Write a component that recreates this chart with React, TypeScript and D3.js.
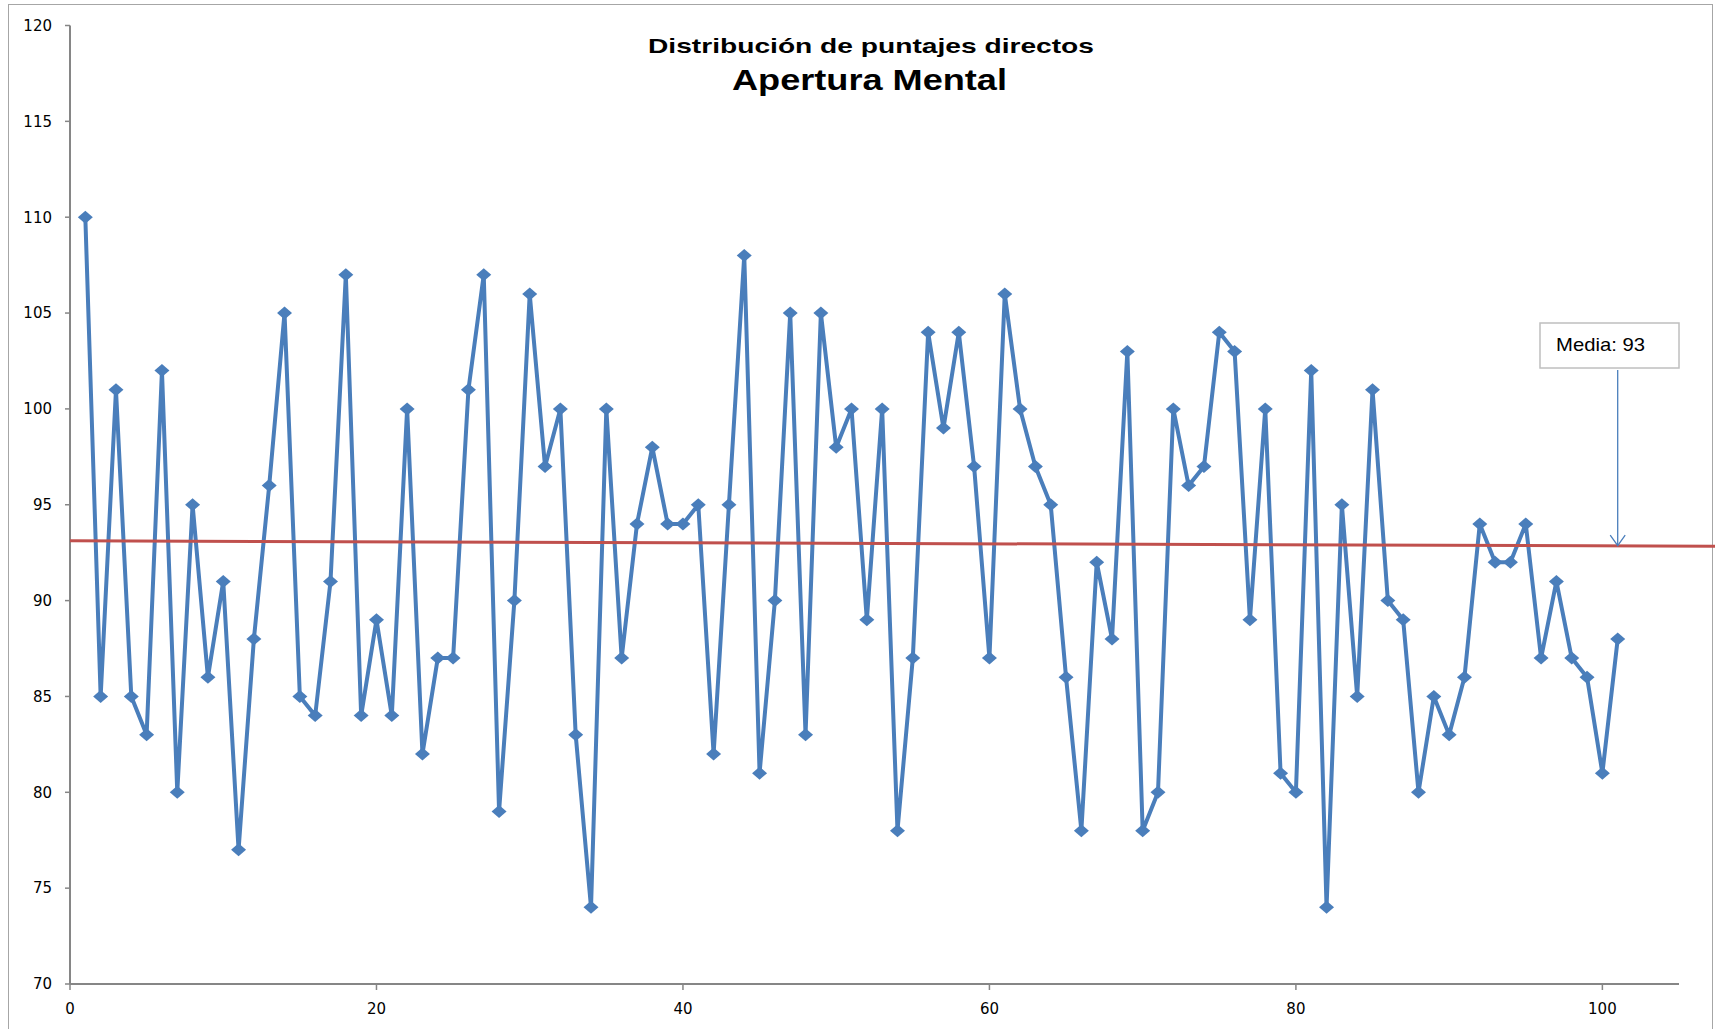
import React from "react";
import * as d3 from "d3";

const scores: number[] = [
  110, 85, 101, 85, 83, 102, 80, 95, 86, 91,
  77, 88, 96, 105, 85, 84, 91, 107, 84, 89,
  84, 100, 82, 87, 87, 101, 107, 79, 90, 106,
  97, 100, 83, 74, 100, 87, 94, 98, 94, 94,
  95, 82, 95, 108, 81, 90, 105, 83, 105, 98,
  100, 89, 100, 78, 87, 104, 99, 104, 97, 87,
  106, 100, 97, 95, 86, 78, 92, 88, 103, 78,
  80, 100, 96, 97, 104, 103, 89, 100, 81, 80,
  102, 74, 95, 85, 101, 90, 89, 80, 85, 83,
  86, 94, 92, 92, 94, 87, 91, 87, 86, 81,
  88,
];
const xTicks: number[] = [0, 20, 40, 60, 80, 100];
const yTicks: number[] = [70, 75, 80, 85, 90, 95, 100, 105, 110, 115, 120];
const meanLineX: number[] = [0, 107.4];
const meanLineY: number[] = [93.12, 92.84];
const meanLabel = "Media: 93";
const titleLine1 = "Distribución de puntajes directos";
const titleLine2 = "Apertura Mental";

const W = 1715;
const H = 1029;

export default function App() {
  const x = d3.scaleLinear().domain([0, 105]).range([70, 1679]);
  const y = d3.scaleLinear().domain([70, 120]).range([984, 25.5]);
  const pts = scores.map((v, i) => [i + 1, v] as [number, number]);
  const line = d3
    .line<[number, number]>()
    .x((d) => x(d[0]))
    .y((d) => y(d[1]));
  const meanPts = meanLineX.map((v, i) => [v, meanLineY[i]] as [number, number]);
  const blue = "#4A7EBB";
  const axisCol = "#868686";
  const tickFont = "'DejaVu Sans', sans-serif";

  const arrowX = 101.0;
  const arrowTipY = y(92.87);
  const tipX = x(arrowX);

  return (
    <svg
      width={W}
      height={H}
      style={{ position: "absolute", left: 0, top: 0, display: "block", background: "#fff" }}
    >
      <rect x={8.5} y={4.5} width={1704} height={1040} fill="#fff" stroke="#a6a6a6" strokeWidth={1} />

      {/* title */}
      <text
        x={871}
        y={53}
        textAnchor="middle"
        fontFamily="'Liberation Sans', Arial, sans-serif"
        fontWeight="bold"
        fontSize={21}
        textLength={446}
        lengthAdjust="spacingAndGlyphs"
      >
        {titleLine1}
      </text>
      <text
        x={869.5}
        y={90}
        textAnchor="middle"
        fontFamily="'Liberation Sans', Arial, sans-serif"
        fontWeight="bold"
        fontSize={29}
        textLength={275}
        lengthAdjust="spacingAndGlyphs"
      >
        {titleLine2}
      </text>

      {/* y axis */}
      <line x1={70} x2={70} y1={y(120)} y2={y(70)} stroke={axisCol} strokeWidth={2} />
      {yTicks.map((t) => (
        <g key={"y" + t}>
          <line x1={65} x2={70} y1={y(t)} y2={y(t)} stroke={axisCol} strokeWidth={1.5} />
          <text
            x={52}
            y={y(t) + 5.3}
            textAnchor="end"
            fontFamily={tickFont}
            fontSize={15}
            fill="#000"
          >
            {t}
          </text>
        </g>
      ))}

      {/* x axis */}
      <line x1={70} x2={x(105)} y1={y(70)} y2={y(70)} stroke={axisCol} strokeWidth={2} />
      {xTicks.map((t) => (
        <g key={"x" + t}>
          <line x1={x(t)} x2={x(t)} y1={y(70)} y2={y(70) + 6} stroke={axisCol} strokeWidth={1.5} />
          <text
            x={x(t)}
            y={1014}
            textAnchor="middle"
            fontFamily={tickFont}
            fontSize={15}
            fill="#000"
          >
            {t}
          </text>
        </g>
      ))}

      {/* data line */}
      <path d={line(pts) || ""} fill="none" stroke={blue} strokeWidth={4} strokeLinejoin="round" />
      {pts.map((p, i) => {
        const cx = x(p[0]);
        const cy = y(p[1]);
        return (
          <path
            key={"m" + i}
            d={`M${cx - 7.5},${cy} L${cx},${cy - 6.5} L${cx + 7.5},${cy} L${cx},${cy + 6.5} Z`}
            fill={blue}
          />
        );
      })}

      {/* mean line */}
      <path d={line(meanPts) || ""} fill="none" stroke="#C0504D" strokeWidth={3} />

      {/* annotation */}
      <rect x={1540} y={323} width={139} height={45} fill="#fff" stroke="#bfbfbf" strokeWidth={1.5} />
      <text
        x={1556}
        y={350.5}
        fontFamily="'Liberation Sans', Arial, sans-serif"
        fontSize={19}
        textLength={89}
        lengthAdjust="spacingAndGlyphs"
        fill="#000"
      >
        {meanLabel}
      </text>
      <line x1={1617.7} y1={370} x2={tipX} y2={arrowTipY} stroke={blue} strokeWidth={1.3} />
      <path
        d={`M${tipX - 7.5},${arrowTipY - 10.5} L${tipX},${arrowTipY} L${tipX + 7.5},${arrowTipY - 10.5}`}
        fill="none"
        stroke={blue}
        strokeWidth={1.3}
      />
    </svg>
  );
}
